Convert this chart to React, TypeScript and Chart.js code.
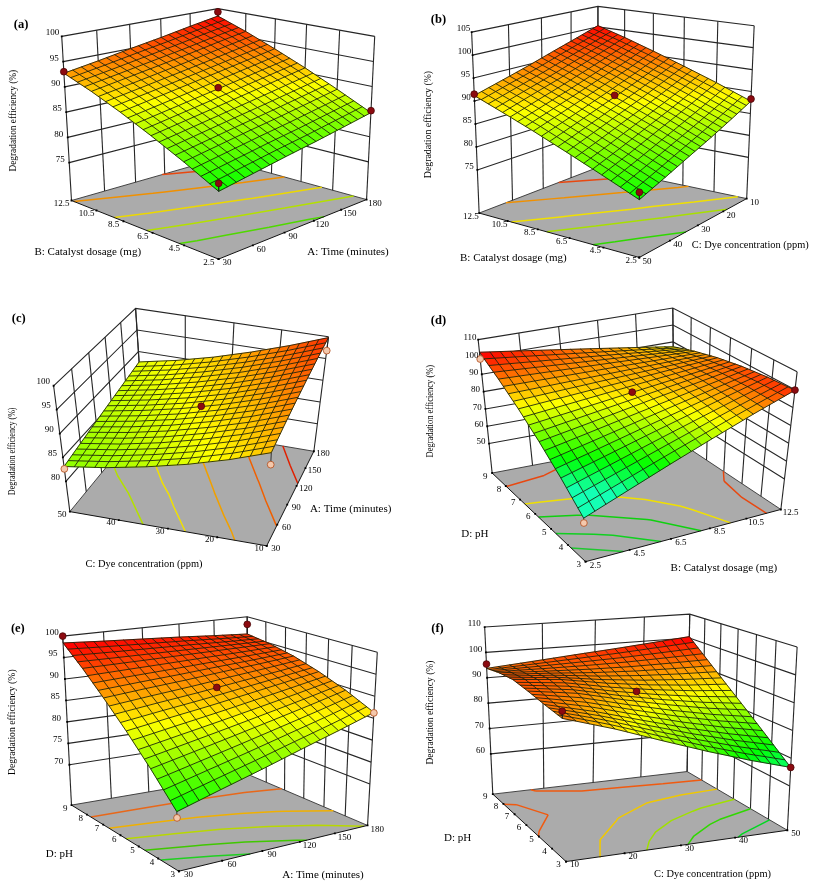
import { useEffect, useRef } from "react";
import { Chart, registerables } from "chart.js";
Chart.register(...registerables);

const timeTicks = [30, 60, 90, 120, 150, 180];
const catalystTicks = [2.5, 4.5, 6.5, 8.5, 10.5, 12.5];
const dyeTicksUp = [10, 20, 30, 40, 50];
const dyeTicksDown = [50, 40, 30, 20, 10];
const phTicks = [3, 4, 5, 6, 7, 8, 9];

const zTicksA = [75, 80, 85, 90, 95, 100];
const zTicksB = [75, 80, 85, 90, 95, 100, 105];
const zTicksC = [80, 85, 90, 95, 100];
const zTicksD = [50, 60, 70, 80, 90, 100, 110];
const zTicksE = [70, 75, 80, 85, 90, 95, 100];
const zTicksF = [60, 70, 80, 90, 100, 110];

const surfaceA = [
  [79.4, 80.5, 81.6, 82.6, 83.7, 84.8],
  [82.6, 83.7, 84.8, 85.8, 86.9, 88.0],
  [85.5, 86.6, 87.7, 88.8, 89.9, 91.0],
  [88.2, 89.3, 90.4, 91.5, 92.6, 93.7],
  [90.6, 91.7, 92.8, 93.9, 95.1, 96.2],
  [92.7, 93.8, 95.0, 96.1, 97.3, 98.4],
];
const surfaceB = [
  [77.4, 79.5, 81.6, 83.6, 85.7, 87.8],
  [80.6, 82.6, 84.7, 86.7, 88.7, 90.8],
  [83.6, 85.6, 87.6, 89.5, 91.5, 93.5],
  [86.4, 88.3, 90.2, 92.1, 94.0, 96.0],
  [88.9, 90.8, 92.6, 94.5, 96.4, 98.3],
  [91.2, 93.0, 94.8, 96.7, 98.5, 100.3],
];
const surfaceC = [
  [92.3, 93.8, 95.3, 96.8, 98.3, 99.8],
  [89.7, 91.1, 92.5, 93.9, 95.3, 96.7],
  [87.5, 88.8, 90.1, 91.3, 92.6, 93.9],
  [85.7, 86.8, 88.0, 89.1, 90.3, 91.4],
  [84.2, 85.2, 86.3, 87.3, 88.3, 89.3],
  [83.1, 84.0, 84.9, 85.8, 86.7, 87.6],
];
const surfaceD = [
  [55.5, 64.3, 73.2, 82.0, 90.9, 99.7],
  [66.7, 73.1, 79.6, 86.0, 92.5, 98.9],
  [77.0, 81.0, 85.1, 89.2, 93.2, 97.3],
  [86.4, 88.1, 89.8, 91.4, 93.1, 94.8],
  [95.0, 94.3, 93.6, 92.9, 92.1, 91.4],
  [102.7, 99.6, 96.5, 93.4, 90.3, 87.2],
];
const surfaceE = [
  [73.0, 75.7, 78.3, 81.0, 83.6, 86.3],
  [79.2, 81.2, 83.2, 85.2, 87.2, 89.3],
  [84.8, 86.2, 87.5, 88.9, 90.3, 91.7],
  [89.8, 90.6, 91.3, 92.1, 92.8, 93.6],
  [94.4, 94.5, 94.6, 94.7, 94.8, 94.9],
  [98.4, 97.8, 97.3, 96.8, 96.2, 95.7],
];
const surfaceF = [
  [93.5, 87.8, 81.7, 76.1, 71.1, 66.7],
  [94.3, 89.9, 85.0, 80.5, 76.7, 73.5],
  [95.3, 92.8, 88.8, 85.4, 82.5, 80.3],
  [96.0, 94.5, 91.6, 89.5, 88.0, 87.0],
  [95.2, 94.4, 93.8, 93.5, 93.6, 93.8],
  [93.7, 95.1, 96.5, 97.8, 99.2, 100.6],
];

const levelsA = [83, 86, 89, 92.5, 96];
const levelsB = [81.5, 85.6, 88.6, 93, 97];
const levelsC = [85.5, 87.4, 90.2, 93.7, 97];
const levelsD = [63, 71, 80, 87, 96];
const levelsE = [77.5, 81.5, 86, 90, 94.2];
const levelsF = [72, 78, 83.3, 89.3, 95];

// factor 1, factor 2, response, 1 = below the surface
const pointsA = [[30, 2.5, 80.8, 0], [180, 2.5, 85.2, 0], [30, 12.5, 93.0, 0], [180, 12.5, 99.3, 0], [105, 7.5, 89.8, 0]];
const pointsB = [[50, 2.5, 78.9, 0], [10, 2.5, 88.3, 0], [50, 12.5, 91.5, 0], [30, 7.5, 90.2, 0]];
const pointsC = [[30, 10, 89.9, 1], [180, 10, 96.8, 1], [30, 50, 82.6, 1], [105, 30, 89.7, 0]];
const pointsD = [[2.5, 3, 53, 1], [12.5, 3, 99.8, 0], [2.5, 9, 98.8, 1], [7.5, 6, 89, 0]];
const pointsE = [[30, 3, 71.7, 1], [180, 3, 86.2, 1], [30, 9, 100, 0], [180, 9, 98.1, 0], [105, 6, 90, 0]];
const pointsF = [[10, 3, 96, 0], [50, 3, 66.7, 0], [10, 9, 95.4, 0], [30, 6, 89.4, 0]];

type XY = [number, number];
type Panel = {
  letter: string; origin: XY; size: XY; letterAt: XY;
  floor: XY[]; top: XY[]; uTicks: number[]; vTicks: number[]; zTicks: number[]; zMin: number;
  surface: number[][]; levels: number[]; levelColors: string[]; points: number[][];
  colorRange: XY; uTitle: string; vTitle: string; uTitleAt: XY; vTitleAt: XY; zTitleAt: XY; zSpan: number;
  vOff: XY; uOff: XY; zOff: XY;
};
const zTitle = "Degradation efficiency (%)";
const timeTitle = "A: Time (minutes)";
const catTitle = "B: Catalyst dosage (mg)";
const dyeTitle = "C: Dye concentration (ppm)";
const phTitle = "D: pH";

const panels: Panel[] = [
  { letter: "(a)", origin: [0, 0], size: [1200, 840], letterAt: [50, 62],
    floor: [[657, 790], [1112, 605], [655, 478], [205, 608]], top: [[658, 215], [1137, 98], [655, 12], [175, 98]],
    uTicks: timeTicks, vTicks: catalystTicks, zTicks: zTicksA, zMin: 67.5, surface: surfaceA,
    levels: levelsA, levelColors: ["#50d800", "#b4e000", "#ecd800", "#f09000", "#e84810"], points: pointsA, colorRange: [79.4, 98.4],
    uTitle: timeTitle, vTitle: catTitle, uTitleAt: [1055, 767], vTitleAt: [255, 767], zTitleAt: [25, 360], zSpan: 305,
    vOff: [-30, 11], uOff: [26, 12], zOff: [-28, -10] },
  { letter: "(b)", origin: [405, 0], size: [1224, 840], letterAt: [88, 47],
    floor: [[705, 785], [1035, 602], [578, 505], [213, 647]], top: [[706, 185], [1058, 65], [578, 5], [190, 85]],
    uTicks: dyeTicksDown, vTicks: catalystTicks, zTicks: zTicksB, zMin: 65.6, surface: surfaceB,
    levels: levelsB, levelColors: ["#30d800", "#a8e000", "#f0e000", "#f09000", "#e84810"], points: pointsB, colorRange: [77.4, 100.3],
    uTitle: dyeTitle, vTitle: catTitle, uTitleAt: [1046, 747], vTitleAt: [318, 788], zTitleAt: [55, 372], zSpan: 322,
    vOff: [-25, 10], uOff: [24, 12], zOff: [-25, -10] },
  { letter: "(c)", origin: [0, 290], size: [1200, 900], letterAt: [43, 73],
    floor: [[805, 778], [950, 485], [425, 395], [200, 672]], top: [[825, 370], [995, 130], [402, 42], [150, 282]],
    uTicks: timeTicks, vTicks: dyeTicksUp, zTicks: zTicksC, zMin: 73.65, surface: surfaceC,
    levels: levelsC, levelColors: ["#b4e000", "#f0e000", "#f0a000", "#f06000", "#e02000"], points: pointsC, colorRange: [76, 102],
    uTitle: timeTitle, vTitle: dyeTitle, uTitleAt: [1063, 663], vTitleAt: [428, 835], zTitleAt: [22, 485], zSpan: 263,
    vOff: [-24, 8], uOff: [28, 8], zOff: [-32, -12] },
  { letter: "(d)", origin: [405, 300], size: [1224, 870], letterAt: [88, 48],
    floor: [[540, 797], [1140, 635], [812, 415], [253, 522]], top: [[520, 335], [1190, 208], [808, 10], [210, 108]],
    uTicks: catalystTicks, vTicks: phTicks, zTicks: zTicksD, zMin: 33, surface: surfaceD,
    levels: levelsD, levelColors: ["#20c830", "#10d020", "#10d010", "#f0e000", "#e84810"], points: pointsD, colorRange: [72, 102],
    uTitle: catTitle, vTitle: phTitle, uTitleAt: [965, 817], vTitleAt: [200, 712], zTitleAt: [62, 330], zSpan: 278,
    vOff: [-21, 10], uOff: [30, 11], zOff: [-25, -5] },
  { letter: "(e)", origin: [0, 590], size: [1200, 891], letterAt: [40, 105],
    floor: [[535, 857], [1115, 715], [750, 558], [205, 652]], top: [[515, 270], [1145, 178], [745, 68], [178, 128]],
    uTicks: timeTicks, vTicks: phTicks, zTicks: zTicksE, zMin: 60.6, surface: surfaceE,
    levels: levelsE, levelColors: ["#20d020", "#40c800", "#b8d800", "#f0b000", "#e8681a"], points: pointsE, colorRange: [73, 98],
    uTitle: timeTitle, vTitle: phTitle, uTitleAt: [978, 870], vTitleAt: [168, 805], zTitleAt: [22, 395], zSpan: 317,
    vOff: [-19, 12], uOff: [30, 12], zOff: [-33, -11] },
  { letter: "(f)", origin: [405, 590], size: [1224, 891], letterAt: [85, 105],
    floor: [[480, 827], [1160, 730], [852, 548], [255, 618]], top: [[465, 235], [1190, 162], [860, 60], [230, 100]],
    uTicks: dyeTicksUp, vTicks: phTicks, zTicks: zTicksF, zMin: 44.1, surface: surfaceF,
    levels: levelsF, levelColors: ["#00d820", "#30d800", "#a0e000", "#f0c800", "#f05a10"], points: pointsF, colorRange: [72, 100],
    uTitle: dyeTitle, vTitle: phTitle, uTitleAt: [930, 865], vTitleAt: [147, 755], zTitleAt: [63, 365], zSpan: 312,
    vOff: [-23, 9], uOff: [26, 10], zOff: [-32, -10] },
];

function homography(q: XY[]) {
  const [[x0, y0], [x1, y1], [x2, y2], [x3, y3]] = q;
  const sx = x0 - x1 + x2 - x3, sy = y0 - y1 + y2 - y3;
  const dx1 = x1 - x2, dx2 = x3 - x2, dy1 = y1 - y2, dy2 = y3 - y2;
  const det = dx1 * dy2 - dx2 * dy1;
  const g = (sx * dy2 - dx2 * sy) / det, h = (dx1 * sy - sx * dy1) / det;
  const a = x1 - x0 + g * x1, b = x3 - x0 + h * x3, d = y1 - y0 + g * y1, e = y3 - y0 + h * y3;
  return (u: number, v: number): XY => {
    const n = g * u + h * v + 1;
    return [(a * u + b * v + x0) / n, (d * u + e * v + y0) / n];
  };
}

function ramp(t: number) {
  if (t < 0) { const m = Math.min(1, -t / 0.3); return `rgb(${Math.round(20 * m)},255,${Math.round(180 * m)})`; }
  if (t < 0.5) return `rgb(${Math.round(510 * t)},255,0)`;
  const k = Math.min(1, t);
  return `rgb(255,${Math.round(255 * (2 - 2 * k))},0)`;
}

function buildChart(canvas: HTMLCanvasElement, p: Panel) {
  const floorH = homography(p.floor), topH = homography(p.top);
  const zMax = p.zTicks[p.zTicks.length - 1];
  const wOf = (z: number) => (z - p.zMin) / (zMax - p.zMin);
  const project = (u: number, v: number, z: number) => {
    const f = floorH(u, v), t = topH(u, v), w = wOf(z);
    return { x: f[0] + (t[0] - f[0]) * w, y: f[1] + (t[1] - f[1]) * w };
  };
  const n = p.surface.length - 1;
  const nodeU = (i: number) => i / n;
  const zAt = (u: number, v: number) => {
    const fu = Math.min(n - 1e-9, u * n), fv = Math.min(n - 1e-9, v * n);
    const i = Math.floor(fu), j = Math.floor(fv), s = fu - i, t = fv - j;
    const T = p.surface;
    return (T[j][i] * (1 - s) + T[j][i + 1] * s) * (1 - t) + (T[j + 1][i] * (1 - s) + T[j + 1][i + 1] * s) * t;
  };
  const fracOf = (ticks: number[], val: number) => (val - ticks[0]) / (ticks[ticks.length - 1] - ticks[0]);
  const uF = (val: number) => fracOf(p.uTicks, val);
  const vF = (val: number) => fracOf(p.vTicks, val);
  const lowZ = p.zMin, highZ = zMax;

  const line = (data: any[], color: string, width: number, order: number, label: string) => ({
    type: "scatter", label, data, showLine: true, borderColor: color, borderWidth: width, pointRadius: 0, order, fill: false, tension: 0, spanGaps: false,
  });
  const datasets: any[] = [];
  const wall = "#262626", wallW = 1.1;
  // walls
  p.zTicks.forEach((z) => datasets.push(line([project(0, 1, z), project(1, 1, z), project(1, 0, z)], wall, wallW, 5, `wall z ${z}`)));
  p.uTicks.forEach((t) => datasets.push(line([project(uF(t), 1, lowZ), project(uF(t), 1, highZ)], wall, wallW, 5, `wall u ${t}`)));
  p.vTicks.forEach((t) => datasets.push(line([project(1, vF(t), lowZ), project(1, vF(t), highZ)], wall, wallW, 5, `wall v ${t}`)));
  datasets.push(line([project(0, 1, lowZ), project(0, 0, lowZ), project(1, 0, lowZ)], "#111", 1, 3, "floor front"));
  datasets.push(line([project(0, 1, lowZ), project(1, 1, lowZ), project(1, 0, lowZ)], "#333", 0.9, 5, "floor back"));

  p.levels.forEach((lev, k) => {
    const pts: any[] = [];
    const T = p.surface;
    for (let j = 0; j < n; j++) for (let i = 0; i < n; i++) {
      const a = T[j][i], b = T[j][i + 1], c = T[j + 1][i + 1], d = T[j + 1][i];
      const cross = (za: number, zb: number, ua: number, va: number, ub: number, vb: number) => {
        if ((za >= lev) === (zb >= lev)) return null;
        const s = (lev - za) / (zb - za);
        return project(nodeU(ua + (ub - ua) * s), nodeU(va + (vb - va) * s), lowZ);
      };
      const e0 = cross(a, b, i, j, i + 1, j), e1 = cross(b, c, i + 1, j, i + 1, j + 1);
      const e2 = cross(d, c, i, j + 1, i + 1, j + 1), e3 = cross(a, d, i, j, i, j + 1);
      const gap = { x: NaN, y: NaN };
      const list = [e0, e1, e2, e3].filter(Boolean);
      if (list.length === 2) pts.push(list[0], list[1], gap);
      else if (list.length === 4) {
        const m = (a + b + c + d) / 4;
        if ((a >= lev) === (m >= lev)) pts.push(e0, e1, gap, e2, e3, gap);
        else pts.push(e3, e0, gap, e1, e2, gap);
      }
    }
    datasets.push(line(pts, p.levelColors[k], 1.5, 4, `contour ${lev}`));
  });

  // surface grid: one line per table row and per table column
  const meshColor = "#161c08", meshWidth = 0.85;
  p.surface.forEach((row, j) => datasets.push(line(row.map((z, i) => project(nodeU(i), nodeU(j), z)), meshColor, meshWidth, 2, `row ${j}`)));
  p.surface[0].forEach((_, i) => datasets.push(line(p.surface.map((row, j) => project(nodeU(i), nodeU(j), row[i])), meshColor, meshWidth, 2, `col ${i}`)));

  // stems and design points
  p.points.forEach(([a, b, z], k) => {
    const u = uF(a), v = vF(b);
    datasets.push(line([project(u, v, z), project(u, v, zAt(u, v))], "#222", 0.9, 1, `stem ${k}`));
  });
  datasets.push({
    type: "scatter", label: "design points", order: 0,
    data: p.points.map(([a, b, z]) => project(uF(a), vF(b), z)),
    pointRadius: 3.4, borderWidth: 0.8,
    pointBackgroundColor: p.points.map((q) => (q[3] ? "#f4c8ac" : "#8c0a10")),
    pointBorderColor: p.points.map((q) => (q[3] ? "#b04a1a" : "#4a0808")),
  });

  // tick marks
  const tickPts = [
    ...p.zTicks.map((z) => project(0, 1, z)),
    ...p.uTicks.map((t) => project(uF(t), 0, lowZ)),
    ...p.vTicks.map((t) => project(0, vF(t), lowZ)),
  ];
  datasets.push({ type: "scatter", label: "ticks", order: 0, data: tickPts, pointRadius: 1.3, pointStyle: "rect", pointBackgroundColor: "#000", pointBorderColor: "#000", borderWidth: 0 });

  let painted = false;
  const plugin = {
    id: "surfacePanel",
    beforeDatasetsDraw(chart: any) {
      painted = false;
      const { ctx, scales } = chart;
      const f = [project(0, 0, lowZ), project(1, 0, lowZ), project(1, 1, lowZ), project(0, 1, lowZ)];
      ctx.save();
      ctx.fillStyle = "#ababab";
      ctx.beginPath();
      f.forEach((q, i) => {
        const X = scales.x.getPixelForValue(q.x), Y = scales.y.getPixelForValue(q.y);
        i ? ctx.lineTo(X, Y) : ctx.moveTo(X, Y);
      });
      ctx.closePath();
      ctx.fill();
      ctx.restore();
    },
    beforeDatasetDraw(chart: any, args: any) {
      if (painted || chart.data.datasets[args.index].order !== 2) return;
      painted = true;
      const { ctx, scales } = chart;
      const sub = 4, m = n * sub;
      const px = (u: number, v: number) => {
        const q = project(u, v, zAt(u, v));
        return [scales.x.getPixelForValue(q.x), scales.y.getPixelForValue(q.y)];
      };
      const [ca, cb] = p.colorRange;
      ctx.save();
      for (let j = m - 1; j >= 0; j--) for (let i = m - 1; i >= 0; i--) {
        const u0 = i / m, u1 = (i + 1) / m, v0 = j / m, v1 = (j + 1) / m;
        const col = ramp((zAt((u0 + u1) / 2, (v0 + v1) / 2) - ca) / (cb - ca));
        const c = [px(u0, v0), px(u1, v0), px(u1, v1), px(u0, v1)];
        ctx.beginPath();
        c.forEach((q, k) => (k ? ctx.lineTo(q[0], q[1]) : ctx.moveTo(q[0], q[1])));
        ctx.closePath();
        ctx.fillStyle = col; ctx.strokeStyle = col; ctx.lineWidth = 0.6;
        ctx.fill(); ctx.stroke();
      }
      // finer wires between the table's rows and columns
      ctx.strokeStyle = meshColor; ctx.lineWidth = meshWidth;
      for (let k = 1; k < m; k++) {
        if (k % sub === 0) continue;
        ctx.beginPath();
        for (let i = 0; i <= m; i++) { const q = px(i / m, k / m); i ? ctx.lineTo(q[0], q[1]) : ctx.moveTo(q[0], q[1]); }
        ctx.stroke();
        ctx.beginPath();
        for (let j = 0; j <= m; j++) { const q = px(k / m, j / m); j ? ctx.lineTo(q[0], q[1]) : ctx.moveTo(q[0], q[1]); }
        ctx.stroke();
      }
      ctx.restore();
    },
    afterDatasetsDraw(chart: any) {
      const { ctx, scales } = chart;
      const X = (v: number) => scales.x.getPixelForValue(v), Y = (v: number) => scales.y.getPixelForValue(v);
      const text = (s: string, x: number, y: number, font: string, max?: number) => {
        ctx.font = font;
        if (max) ctx.fillText(s, X(x), Y(y), max); else ctx.fillText(s, X(x), Y(y));
      };
      ctx.save();
      ctx.fillStyle = "#000"; ctx.textAlign = "center"; ctx.textBaseline = "middle";
      const tf = '9px "Liberation Serif"', tl = '11px "Liberation Serif"';
      const titleMax = (s: string) => (s === dyeTitle ? 117 : undefined);
      p.zTicks.forEach((z) => { const q = project(0, 1, z); text(String(z), q.x + p.zOff[0], q.y + p.zOff[1], tf); });
      p.uTicks.forEach((t) => { const q = project(uF(t), 0, lowZ); text(String(t), q.x + p.uOff[0], q.y + p.uOff[1], tf); });
      p.vTicks.forEach((t) => { const q = project(0, vF(t), lowZ); text(String(t), q.x + p.vOff[0], q.y + p.vOff[1], tf); });
      text(p.uTitle, p.uTitleAt[0], p.uTitleAt[1], tl, titleMax(p.uTitle));
      text(p.vTitle, p.vTitleAt[0], p.vTitleAt[1], tl, titleMax(p.vTitle));
      text(p.letter, p.letterAt[0], p.letterAt[1], 'bold 12.5px "Liberation Serif"');
      ctx.save();
      ctx.translate(X(p.zTitleAt[0]), Y(p.zTitleAt[1]));
      ctx.rotate(-Math.PI / 2);
      ctx.font = tl;
      ctx.fillText(zTitle, 0, 0, p.zSpan / 3);
      ctx.restore();
      ctx.restore();
    },
  };

  return new Chart(canvas, {
    type: "scatter",
    data: { datasets },
    options: {
      animation: false, responsive: false, devicePixelRatio: 1,
      layout: { padding: 0 },
      plugins: { legend: { display: false }, tooltip: { enabled: false } },
      scales: {
        x: { type: "linear", display: false, min: 0, max: p.size[0] },
        y: { type: "linear", display: false, min: 0, max: p.size[1], reverse: true },
      },
    } as any,
    plugins: [plugin as any],
  });
}

function SurfacePanel({ panel }: { panel: Panel }) {
  const ref = useRef<HTMLCanvasElement>(null);
  useEffect(() => {
    const chart = buildChart(ref.current as HTMLCanvasElement, panel);
    return () => chart.destroy();
  }, [panel]);
  return (
    <canvas
      ref={ref}
      width={panel.size[0] / 3}
      height={panel.size[1] / 3}
      style={{ position: "absolute", left: panel.origin[0], top: panel.origin[1], width: panel.size[0] / 3, height: panel.size[1] / 3, display: "block" }}
    />
  );
}

export default function App() {
  return (
    <div style={{ position: "absolute", left: 0, top: 0, width: 813, height: 887, background: "#fff", overflow: "hidden" }}>
      {panels.map((p) => <SurfacePanel key={p.letter} panel={p} />)}
    </div>
  );
}
